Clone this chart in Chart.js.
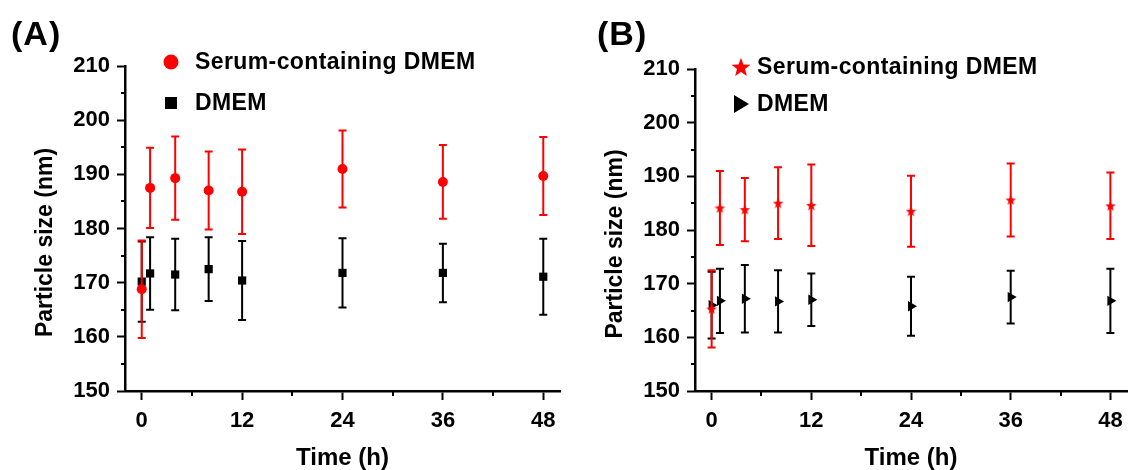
<!DOCTYPE html>
<html>
<head>
<meta charset="utf-8">
<script src="https://cdn.jsdelivr.net/npm/chart.js@4"></script>
<style>
  html, body { margin: 0; padding: 0; background: #fff; }
  #wrap { position: relative; width: 1133px; height: 470px; overflow: hidden;
          font-family: "Liberation Sans", Arial, sans-serif; }
  canvas { position: absolute; top: 0; }
  #chartA { left: 0; }
  #chartB { left: 570px; }
  .panel { position: absolute; font-weight: bold; font-size: 34px; line-height: 34px; color: #000; letter-spacing: 1px; }
</style>
</head>
<body>
<div id="wrap">
  <canvas id="chartA" width="566" height="470"></canvas>
  <canvas id="chartB" width="563" height="470"></canvas>
  <div class="panel" style="left:11px; top:16px;">(A)</div>
  <div class="panel" style="left:597px; top:16px;">(B)</div>
</div>
<script>
// Sampling times (h) and axis ticks
const times = [0, 1, 4, 8, 12, 24, 36, 48];
const xTicks = [0, 12, 24, 36, 48];
const xMinor = [6, 18, 30, 42];
const yTicks = [150, 160, 170, 180, 190, 200, 210];
const yMinor = [155, 165, 175, 185, 195, 205];

// Panel A - particle size (nm), mean and SD
const serumA = [168.8, 187.5, 189.3, 187.0, 186.8, 191.0, 188.6, 189.7];
const serumErrA = [9.0, 7.4, 7.7, 7.2, 7.8, 7.1, 6.8, 7.2];
const dmemA = [170.2, 171.7, 171.5, 172.5, 170.4, 171.8, 171.8, 171.1];
const dmemErrA = [7.4, 6.7, 6.6, 5.9, 7.3, 6.4, 5.4, 7.0];

// Panel B
const serumB = [165.3, 184.1, 183.8, 185.0, 184.6, 183.5, 185.6, 184.5];
const serumErrB = [7.2, 6.9, 5.9, 6.7, 7.6, 6.6, 6.8, 6.2];
const dmemB = [166.0, 166.8, 167.2, 166.7, 167.0, 165.8, 167.5, 166.8];
const dmemErrB = [6.2, 6.0, 6.3, 5.8, 4.9, 5.5, 4.9, 6.0];

const RED = '#ff0000';
const BLACK = '#000000';
const FONT = '"Liberation Sans", Arial, sans-serif';

Chart.defaults.font.family = FONT;
Chart.defaults.font.weight = 'bold';
Chart.defaults.color = '#000';

function starCanvas(size, color) {
    const c = document.createElement('canvas');
    c.width = c.height = size;
    const g = c.getContext('2d');
    const R = size / 2, r = R * 0.42, cx = size / 2, cy = size / 2 + R * 0.08;
    g.fillStyle = color;
    g.beginPath();
    for (let k = 0; k < 10; k++) {
        const a = -Math.PI / 2 + k * Math.PI / 5;
        const rr = k % 2 ? r : R;
        g.lineTo(cx + rr * Math.cos(a), cy + rr * Math.sin(a));
    }
    g.closePath();
    g.fill();
    return c;
}
const smallStar = starCanvas(11, RED);
const bigStar = starCanvas(20, RED);

const toPoints = ys => times.map((t, i) => ({ x: t, y: ys[i] }));

// error bars drawn right before each dataset's markers
const errorBars = {
    id: 'errorBars',
    beforeDatasetDraw(chart, args) {
        const ds = chart.data.datasets[args.index];
        if (!ds.errors) return;
        const { ctx, scales: { x, y } } = chart;
        ctx.save();
        ctx.strokeStyle = ds.borderColor;
        ctx.lineWidth = 2;
        ds.data.forEach((p, i) => {
            const px = x.getPixelForValue(p.x);
            const top = y.getPixelForValue(p.y + ds.errors[i]);
            const bot = y.getPixelForValue(p.y - ds.errors[i]);
            ctx.beginPath();
            ctx.moveTo(px, top); ctx.lineTo(px, bot);
            ctx.moveTo(px - 4, top); ctx.lineTo(px + 4, top);
            ctx.moveTo(px - 4, bot); ctx.lineTo(px + 4, bot);
            ctx.stroke();
        });
        ctx.restore();
    }
};

// minor ticks, y title and legend
const extras = {
    id: 'extras',
    afterDraw(chart, args, opts) {
        const { ctx, chartArea, scales: { x, y } } = chart;
        ctx.save();
        ctx.strokeStyle = '#000';
        ctx.lineWidth = 2;
        ctx.beginPath();
        yMinor.forEach(v => {
            const py = Math.round(y.getPixelForValue(v));
            ctx.moveTo(chartArea.left - 4, py); ctx.lineTo(chartArea.left, py);
        });
        xMinor.forEach(v => {
            const px = Math.round(x.getPixelForValue(v));
            ctx.moveTo(px, chartArea.bottom); ctx.lineTo(px, chartArea.bottom + 5);
        });
        ctx.stroke();

        // y axis title, sits a little below the axis centre
        ctx.save();
        ctx.translate(chartArea.left - 79, (chartArea.top + chartArea.bottom) / 2 + 14);
        ctx.rotate(-Math.PI / 2);
        ctx.font = 'bold 23px ' + FONT;
        ctx.textAlign = 'center';
        ctx.textBaseline = 'middle';
        ctx.fillStyle = '#000';
        ctx.fillText('Particle size (nm)', 0, 0);
        ctx.restore();

        ctx.font = 'bold 23px ' + FONT;
        ctx.letterSpacing = '0.4px';
        ctx.textBaseline = 'middle';
        opts.items.forEach(it => {
            it.marker(ctx, opts.markerX, it.y);
            ctx.fillStyle = '#000';
            ctx.fillText(it.label, opts.textX, it.y + 1);
        });
        ctx.restore();
    }
};

function makeChart(id, datasets, pad, legend) {
    return new Chart(document.getElementById(id), {
        type: 'scatter',
        data: { datasets: datasets },
        options: {
            responsive: false,
            devicePixelRatio: 1,
            animation: false,
            events: [],
            layout: { padding: pad },
            plugins: { legend: { display: false }, tooltip: { enabled: false }, extras: legend },
            scales: {
                x: {
                    type: 'linear', min: -2, max: 50,
                    afterBuildTicks: s => { s.ticks = xTicks.map(v => ({ value: v })); },
                    afterFit: s => { s.height = 79; },
                    ticks: { font: { size: 22, weight: 'bold' }, color: '#000', padding: 8, autoSkip: false, maxRotation: 0 },
                    grid: { drawOnChartArea: false, tickLength: 9, tickWidth: 2, tickColor: '#000' },
                    border: { color: '#000', width: 2.5 },
                    title: { display: true, text: 'Time (h)', font: { size: 24, weight: 'bold' }, color: '#000', padding: { top: 0, bottom: -3 } }
                },
                y: {
                    min: 150, max: 210,
                    afterBuildTicks: s => { s.ticks = yTicks.map(v => ({ value: v })); },
                    afterFit: s => { s.width = 125; },
                    ticks: { font: { size: 22, weight: 'bold' }, color: '#000', padding: 7, autoSkip: false },
                    grid: { drawOnChartArea: false, tickLength: 8, tickWidth: 2, tickColor: '#000' },
                    border: { color: '#000', width: 2.5 },
                    title: { display: false }
                }
            }
        },
        plugins: [errorBars, extras]
    });
}

// Panel A
makeChart('chartA', [
    { label: 'Serum-containing DMEM', data: toPoints(serumA), errors: serumErrA,
      pointStyle: 'circle', pointRadius: 5, backgroundColor: RED, borderColor: RED, borderWidth: 0 },
    { label: 'DMEM', data: toPoints(dmemA), errors: dmemErrA,
      pointStyle: 'rect', pointRadius: 5.8, backgroundColor: BLACK, borderColor: BLACK, borderWidth: 0 }
], { top: 66, right: 6, left: 0, bottom: 0 }, {
    markerX: 171, textX: 195,
    items: [
        { label: 'Serum-containing DMEM', y: 62, marker: (c, x, y) => { c.fillStyle = RED; c.beginPath(); c.arc(x, y, 7.5, 0, Math.PI * 2); c.fill(); } },
        { label: 'DMEM', y: 103, marker: (c, x, y) => { c.fillStyle = BLACK; c.fillRect(x - 6, y - 6, 12, 12); } }
    ]
});

// Panel B
makeChart('chartB', [
    { label: 'Serum-containing DMEM', data: toPoints(serumB), errors: serumErrB,
      pointStyle: smallStar, backgroundColor: RED, borderColor: RED, borderWidth: 0 },
    { label: 'DMEM', data: toPoints(dmemB), errors: dmemErrB,
      pointStyle: 'triangle', pointRotation: 90, pointRadius: 6, backgroundColor: BLACK, borderColor: BLACK, borderWidth: 0 }
], { top: 69, right: 2, left: 0, bottom: 0 }, {
    markerX: 171, textX: 187,
    items: [
        { label: 'Serum-containing DMEM', y: 67, marker: (c, x, y) => { c.drawImage(bigStar, x - 10, y - 10); } },
        { label: 'DMEM', y: 104, marker: (c, x, y) => {
            c.fillStyle = BLACK; c.beginPath(); c.moveTo(x - 7, y - 9); c.lineTo(x + 8, y); c.lineTo(x - 7, y + 9); c.closePath(); c.fill(); } }
    ]
});
</script>
</body>
</html>
